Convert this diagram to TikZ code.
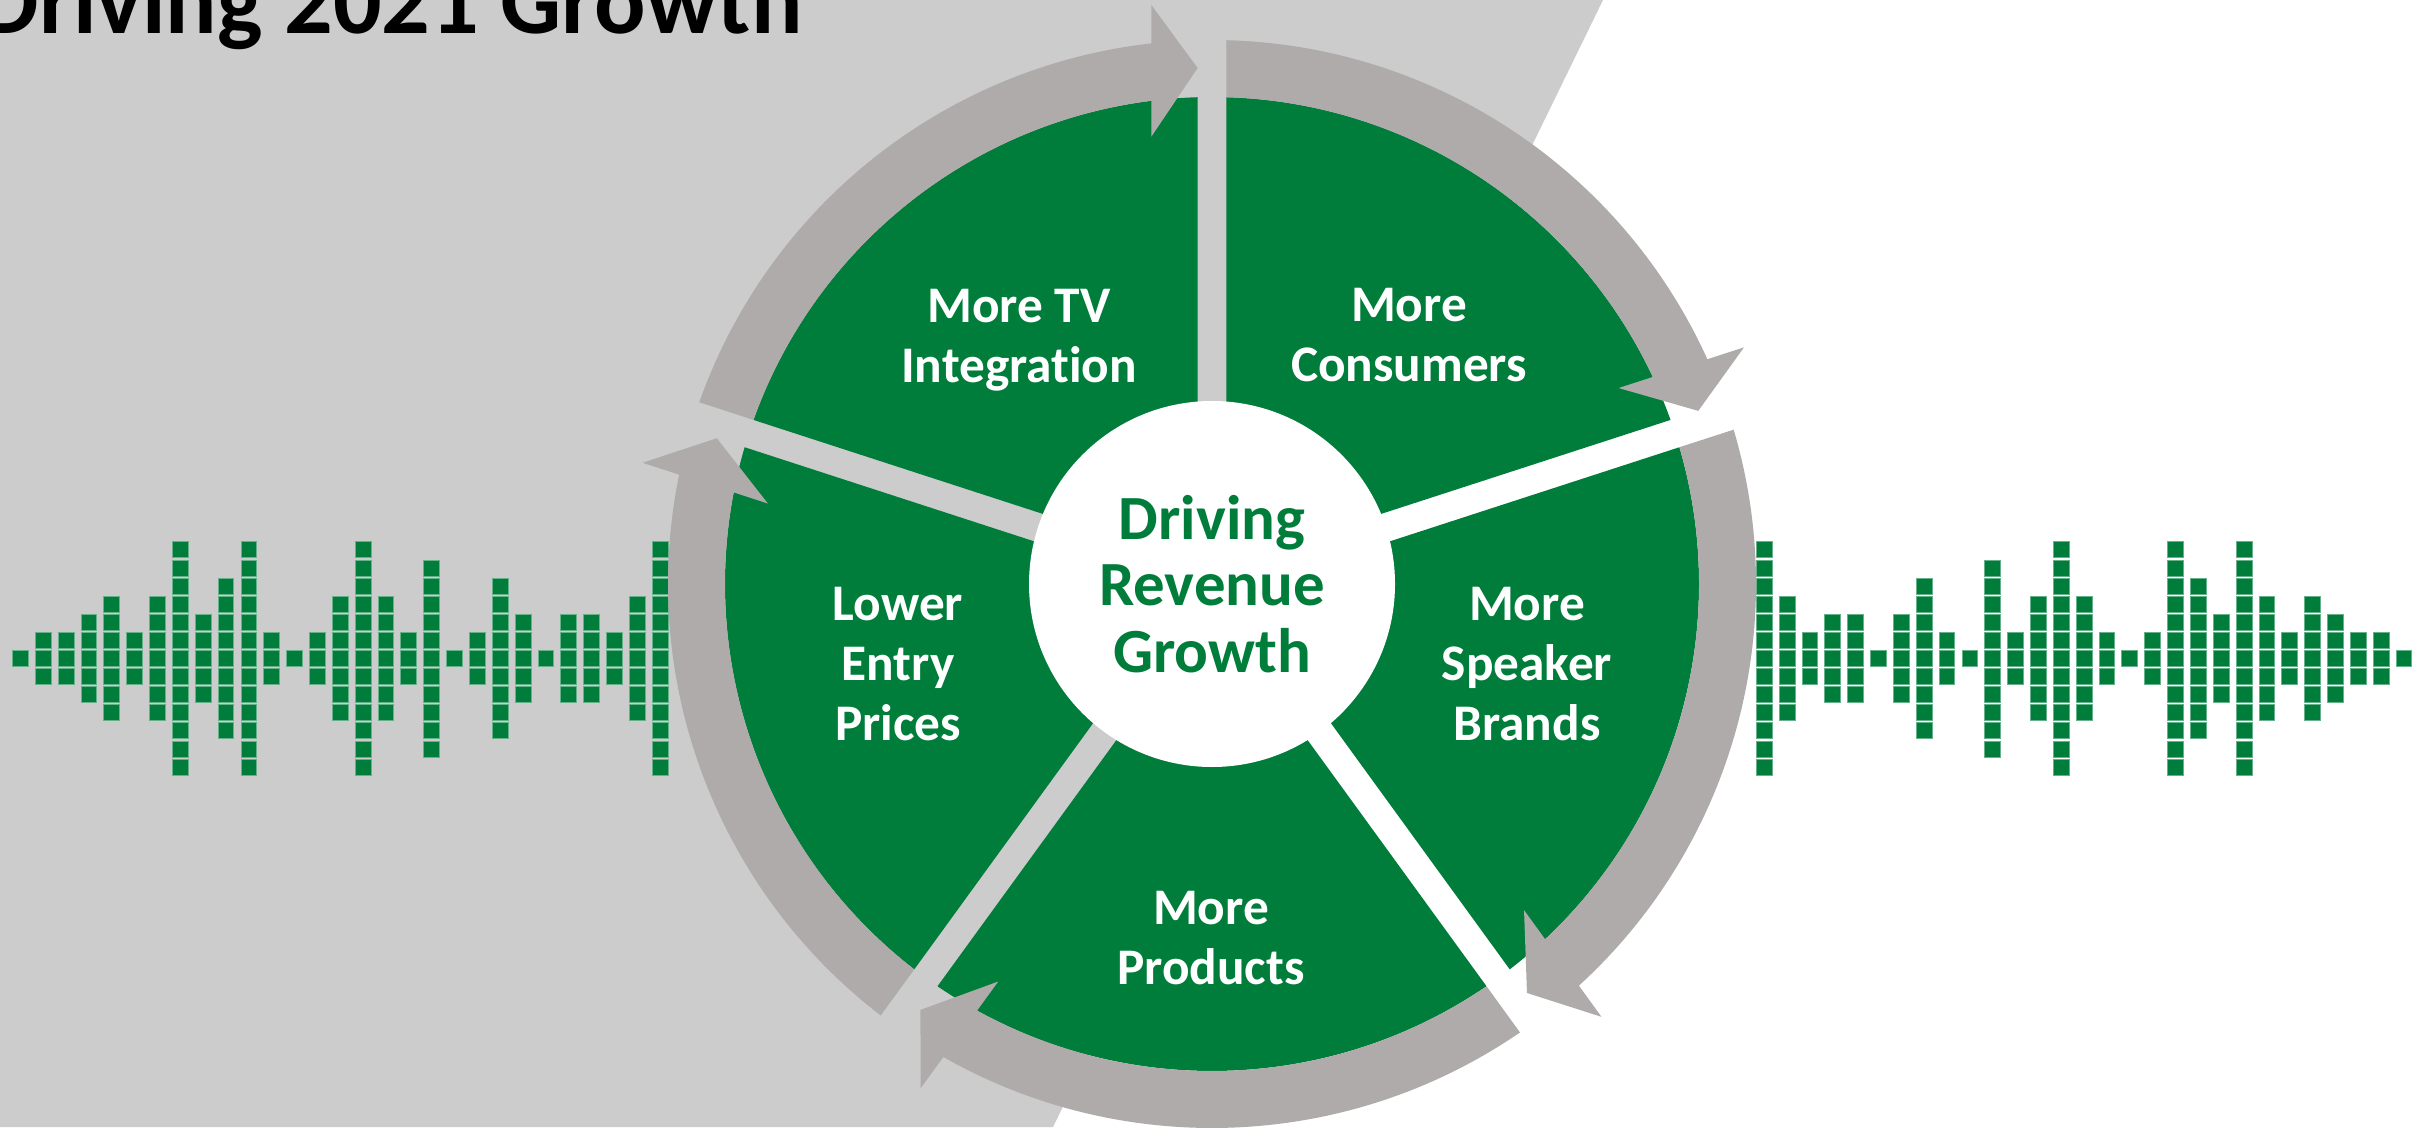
\documentclass[tikz,border=0pt]{standalone}
\usepackage{fontspec}
\setmainfont{Carlito}[Ligatures={NoCommon,NoContextual,NoRare}]

\definecolor{leafgreen}{RGB}{0,125,58}
\definecolor{ringgray}{RGB}{175,171,171}
\definecolor{backgray}{RGB}{204,204,204}

\begin{document}
\begin{tikzpicture}[x=0.1mm, y=0.1mm,
        segfill/.style={fill=leafgreen},
        arrowband/.style={fill=ringgray},
        bar/.style={fill=leafgreen, draw=leafgreen!60!white, line width=0.15pt},
        segtext/.style={text=white, align=center, font=\fontsize{14.6}{17}\selectfont\bfseries},
        hub/.style={circle, fill=white, minimum size=36.6mm, inner sep=0pt, text=leafgreen, align=center,
            font=\fontsize{17.9}{19}\selectfont\bfseries}] %cycle
        \useasboundingbox (0,0) rectangle (2435,1127);
        \fill[white] (0,0) rectangle (2435,1127);
        \fill[backgray] (0,0) -- (0,1127) -- (1603,1127) -- (1053,0) -- cycle;

        \node[anchor=base east, font=\fontsize{27.3}{32}\selectfont\bfseries] (title) at (815,1093) {Driving 2021 Growth};

        % sound bars
        \foreach \h [count=\i from 0, evaluate=\h as \n using int(2*\h)] in {0,1,1,2,3,1,3,6,2,4,6,1,0,1,3,6,3,1,5,0,1,4,2,0,2,2,1,3,6} {
            \foreach \r in {0,...,\n} {
                \filldraw[bar] ({12.3+22.85*\i},{460.7+18.1*(\r-\h)}) rectangle ++(15.8,16);
                \filldraw[bar] ({2395.9-22.85*\i},{460.7+18.1*(\r-\h)}) rectangle ++(15.8,16);
            }
        }

        \foreach \k in {0,...,4} {
            \begin{scope}[shift={(1212,543)}, rotate=-72*\k]
                \fill[segfill] (84.49:150) -- (88.31:487) arc[start angle=88.31, end angle=19.69, radius=487]
                    -- (23.51:150) -- cycle;
                \fill[arrowband] (88.48:544) arc[start angle=88.48, end angle=24.41, radius=544]
                    -- (23.98:582.2) -- (19.6:516.2) -- (25.73:451.4) -- (25.16:487)
                    arc[start angle=25.16, end angle=88.31, radius=487] -- cycle;
            \end{scope}
        }

        \node[hub] (hub) at (1212,543) {Driving\\Revenue\\Growth};

        \node[segtext] (tv) at (1019,787) {More TV\\Integration};
        \node[segtext] (consumers) at (1409,792) {More\\Consumers};
        \node[segtext] (speaker) at (1527,463) {More\\Speaker\\Brands};
        \node[segtext] (products) at (1211,189) {More\\Products};
        \node[segtext] (entry) at (898,463) {Lower\\Entry\\Prices};
    \end{tikzpicture}
\end{document}
